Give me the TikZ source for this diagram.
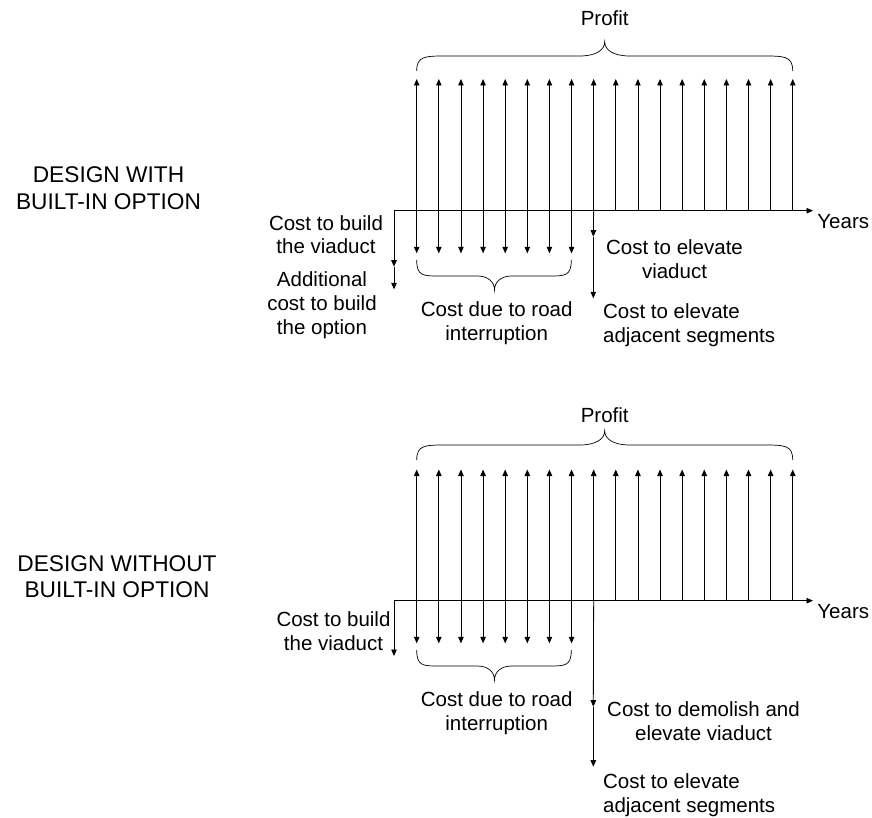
\documentclass[tikz,border=0pt]{standalone}
\usepackage{fontspec}
\setmainfont{Liberation Sans}
\usetikzlibrary{arrows.meta}
\begin{document}
\begin{tikzpicture}[x=1pt,y=-1pt, line width=0.8pt,
  arr/.style={-{Triangle[length=6.5pt,width=5.5pt]}},
  lbl/.style={inner sep=0pt, align=center, font=\fontsize{20.5}{24.3}\selectfont},
  lbll/.style={inner sep=0pt, align=left, font=\fontsize{20.5}{24.3}\selectfont},
  head/.style={inner sep=0pt, align=center, font=\fontsize{22.7}{26.7}\selectfont},
  brc/.style={line width=0.7pt}]
\useasboundingbox (0,0) rectangle (872,818);

% ================= TOP DIAGRAM =================
\coordinate (o1) at (394,210.7);
\coordinate (e1) at (813,210.7);
\draw[arr] (o1) -- (e1);
\node[lbl, anchor=west] (years1) at (817,221.7) {Years};

\foreach \i in {0,...,17}{
  \pgfmathsetmacro\xx{416.7+22.12*\i}
  \coordinate (ab\i) at (\xx,210.7);
  \coordinate (at\i) at (\xx,79);
  \draw[arr] (ab\i) -- (at\i);
}
\foreach \i in {0,...,7}{
  \pgfmathsetmacro\xx{416.7+22.12*\i}
  \coordinate (ad\i) at (\xx,253.3);
  \draw[arr] (ab\i) -- (ad\i);
}
% cost to build + additional
\coordinate (cb1) at (394,266.7);
\coordinate (cb2) at (394,289.3);
\draw[arr] (o1) -- (cb1);
\draw[arr] (cb1) -- (cb2);
% elevate
\coordinate (ev1) at (593.3,236.7);
\coordinate (ev2) at (593.3,298.3);
\draw[arr] (ab8) -- (ev1);
\draw[arr] (ev1) -- (ev2);

% braces
\draw[brc] (416.7,71) .. controls (416.7,56) and (425,56) .. (446.7,56) -- (579.7,56)
  .. controls (596,56) and (604.7,50) .. (604.7,41.7)
  .. controls (604.7,50) and (613.4,56) .. (629.7,56) -- (762.7,56)
  .. controls (784.4,56) and (792.7,56) .. (792.7,71);
\draw[brc] (416.7,260) .. controls (416.7,276) and (423,276) .. (438.7,276) -- (477.5,276)
  .. controls (488,276) and (494.5,282) .. (494.5,290)
  .. controls (494.5,282) and (501,276) .. (511.5,276) -- (549.3,276)
  .. controls (565,276) and (571.3,276) .. (571.3,260);

\node[lbl] (profit1) at (604.7,18.5) {Profit};
\node[head] (design1) at (108.5,188.3) {DESIGN WITH\\BUILT-IN OPTION};
\node[lbl, font=\fontsize{20.5}{23}\selectfont] (build1) at (326,234.7) {Cost to build\\the viaduct};
\node[lbl] (addl1) at (322,305) {Additional\\cost to build\\the option};
\node[lbl] (road1) at (496.7,323) {Cost due to road\\interruption};
\node[lbl] (elev1) at (674.5,259) {Cost to elevate\\viaduct};
\node[lbll, anchor=west] (adj1) at (602.7,325) {Cost to elevate\\adjacent segments};

% ================= BOTTOM DIAGRAM =================
\coordinate (o2) at (394,600.7);
\coordinate (e2) at (813,600.7);
\draw[arr] (o2) -- (e2);
\node[lbl, anchor=west] (years2) at (817,611.7) {Years};

\foreach \i in {0,...,17}{
  \pgfmathsetmacro\xx{416.7+22.12*\i}
  \coordinate (bb\i) at (\xx,600.7);
  \coordinate (bt\i) at (\xx,469.5);
  \draw[arr] (bb\i) -- (bt\i);
}
\foreach \i in {0,...,7}{
  \pgfmathsetmacro\xx{416.7+22.12*\i}
  \coordinate (bd\i) at (\xx,643.3);
  \draw[arr] (bb\i) -- (bd\i);
}
\coordinate (cb3) at (394,656);
\draw[arr] (o2) -- (cb3);
\coordinate (dm1) at (593.3,706.7);
\coordinate (dm2) at (593.3,766.7);
\draw[arr] (bb8) -- (dm1);
\draw[arr] (dm1) -- (dm2);

\draw[brc] (416.7,460) .. controls (416.7,445) and (425,445) .. (446.7,445) -- (579.7,445)
  .. controls (596,445) and (604.7,439) .. (604.7,430.7)
  .. controls (604.7,439) and (613.4,445) .. (629.7,445) -- (762.7,445)
  .. controls (784.4,445) and (792.7,445) .. (792.7,460);
\draw[brc] (416.7,650) .. controls (416.7,666) and (423,666) .. (438.7,666) -- (477.5,666)
  .. controls (488,666) and (494.5,672) .. (494.5,680)
  .. controls (494.5,672) and (501,666) .. (511.5,666) -- (549.3,666)
  .. controls (565,666) and (571.3,666) .. (571.3,650);

\node[lbl] (profit2) at (604.7,415) {Profit};
\node[head] (design2) at (117,576.7) {DESIGN WITHOUT\\BUILT-IN OPTION};
\node[lbl] (build2) at (333.5,631) {Cost to build\\the viaduct};
\node[lbl] (road2) at (496.7,713.5) {Cost due to road\\interruption};
\node[lbl] (demo2) at (703.5,721) {Cost to demolish and\\elevate viaduct};
\node[lbll, anchor=west] (adj2) at (602.7,795.5) {Cost to elevate\\adjacent segments};
\end{tikzpicture}
\end{document}
